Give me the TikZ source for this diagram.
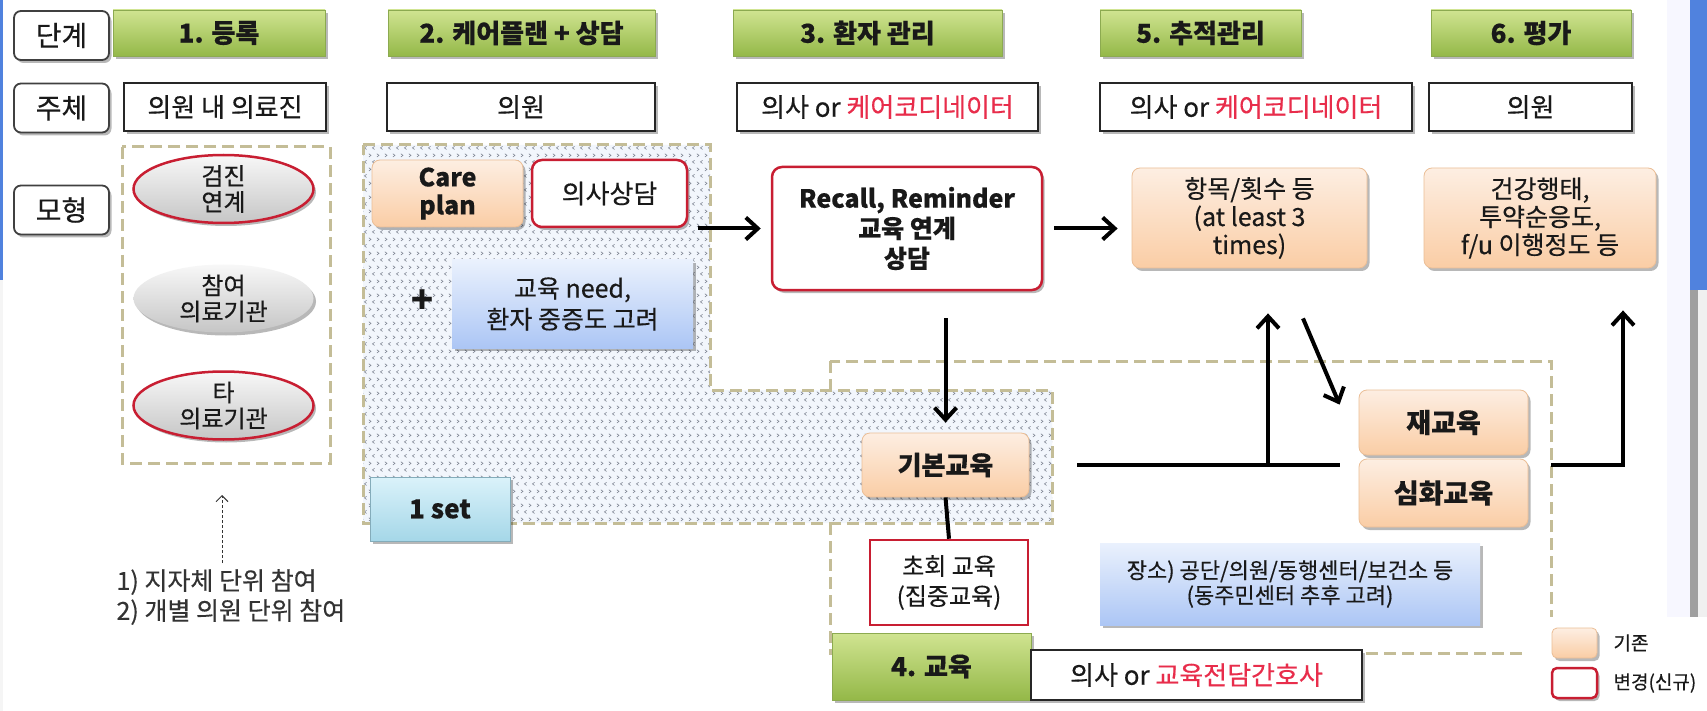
\documentclass[tikz,border=0pt]{standalone}
\usepackage{fontspec}
\setmainfont{Noto Sans CJK KR}[FakeBold=0.4]
\usetikzlibrary{shapes.geometric,shadows,arrows.meta,patterns.meta,calc}
\definecolor{txt}{RGB}{25,25,25}
\definecolor{gtop}{RGB}{208,228,145}
\definecolor{gbot}{RGB}{148,184,72}
\definecolor{gdraw}{RGB}{140,170,80}
\definecolor{ptop}{RGB}{253,238,226}
\definecolor{pbot}{RGB}{250,205,165}
\definecolor{pdraw}{RGB}{235,190,150}
\definecolor{redb}{RGB}{200,30,50}
\definecolor{redt}{RGB}{232,45,75}
\definecolor{btop}{RGB}{234,241,253}
\definecolor{bbot}{RGB}{172,198,245}
\definecolor{ctop}{RGB}{218,242,250}
\definecolor{cbot}{RGB}{165,215,232}
\definecolor{khaki}{RGB}{196,189,151}
\definecolor{hatchbg}{RGB}{242,246,252}
\definecolor{hatchfg}{RGB}{120,126,140}
\definecolor{scrblue}{RGB}{80,130,222}
\newcommand{\fz}[2]{\fontsize{#1}{#2}\selectfont}
\tikzdeclarepattern{
  name=chevs,
  bounding box={(0pt,0pt) and (8pt,14pt)},
  tile size={(8pt,14pt)},
  code={
    \draw[line width=0.6pt] (1.0pt,8.6pt) -- (3.4pt,10.3pt) -- (1.0pt,12.0pt);
    \draw[line width=0.6pt] (7.4pt,1.6pt) -- (5.0pt,3.3pt) -- (7.4pt,5.0pt);
  }
}
\tikzset{
  shd/.style={drop shadow={shadow xshift=2.5pt, shadow yshift=-3pt, opacity=0.28, fill=black}},
  lbl/.style={draw=black!75, line width=1.8pt, rounded corners=7pt, fill=white, minimum width=95pt, minimum height=49pt, font=\fz{28}{32}, text=txt, shd},
  hdr/.style={top color=gtop, bottom color=gbot, draw=gdraw, line width=0.6pt, minimum height=46pt, font=\bfseries\fz{26}{30}, text=txt, shd},
  who/.style={draw=black!85, line width=2.2pt, fill=white, minimum height=48pt, font=\fz{26}{30}, text=txt, shd},
  ell/.style={ellipse, minimum width=180pt, minimum height=68pt, inner sep=0pt, top color=gray!6, bottom color=gray!45, align=center, font=\fz{24}{26}, text=txt, shd},
  peach/.style={rounded corners=8pt, top color=ptop, bottom color=pbot, draw=pdraw, line width=0.8pt, align=center, text=txt, shd},
  redbox/.style={rounded corners=10pt, fill=white, draw=redb, line width=2.5pt, align=center, text=txt, shd},
  redsq/.style={fill=white, draw=redb, line width=2.5pt, align=center, text=txt},
  bluebox/.style={top color=btop, bottom color=bbot, align=center, text=txt, shd},
  cyanbox/.style={top color=ctop, bottom color=cbot, draw=cbot!80!black, line width=0.5pt, align=center, text=txt, shd},
  kdash/.style={draw=khaki, line width=3pt, dash pattern=on 12pt off 6pt},
  arr/.style={line width=4pt, -{Straight Barb[length=12pt,width=22pt,line width=4pt]}},
  lin/.style={line width=4pt}
}
\begin{document}
\begin{tikzpicture}[x=1pt,y=-1pt]
\useasboundingbox (0,0) rectangle (1707,711);
\fill[white] (0,0) rectangle (1707,711);
% screen artefacts
\fill[scrblue] (0,0) rectangle (3,280);
\fill[black!4] (0,280) rectangle (3,711);
\fill[blue!3] (1667,0) rectangle (1690,617);
\fill[scrblue] (1690,0) rectangle (1707,290);
\fill[gray!75] (1690,290) rectangle (1698,617);
\fill[gray!12] (1698,290) rectangle (1707,617);

% region 4 (education)
\draw[kdash] (830,361) rectangle (1551,653);
% region 1
\draw[kdash] (122,147) rectangle (330,463);
% hatched region (1 set)
\fill[hatchbg] (363,145) -- (710,145) -- (710,390) -- (1052,390) -- (1052,523) -- (363,523) -- cycle;
\fill[pattern=chevs, pattern color=hatchfg] (363,145) -- (710,145) -- (710,390) -- (1052,390) -- (1052,523) -- (363,523) -- cycle;
\draw[kdash] (363,145) -- (710,145) -- (710,390) -- (1052,390) -- (1052,523) -- (363,523) -- cycle;

% legend background
\fill[white] (1527,617) rectangle (1707,711);

% row labels
\node[lbl] (l1) at (61.5,35.5) {단계};
\node[lbl] (l2) at (61.5,108) {주체};
\node[lbl] (l3) at (61.5,210) {모형};

% headers
\node[hdr, minimum width=212pt] (h1) at (219,33) {1. 등록};
\node[hdr, minimum width=267pt] (h2) at (521.5,33) {2. 케어플랜 + 상담};
\node[hdr, minimum width=269pt] (h3) at (867.5,33) {3. 환자 관리};
\node[hdr, minimum width=201pt] (h5) at (1200.5,33) {5. 추적관리};
\node[hdr, minimum width=200pt] (h6) at (1531,33) {6. 평가};

% actors
\node[who, minimum width=202pt] (w1) at (225,107) {의원 내 의료진};
\node[who, minimum width=268pt] (w2) at (521,107) {의원};
\node[who, minimum width=301pt] (w3) at (887.5,107) {의사 or \textcolor{redt}{케어코디네이터}};
\node[who, minimum width=312pt] (w5) at (1256,107) {의사 or \textcolor{redt}{케어코디네이터}};
\node[who, minimum width=203pt] (w6) at (1530.5,107) {의원};

% models column 1
\node[ell, draw=redb, line width=2.5pt] (e1) at (223.5,189) {검진\\연계};
\node[ell] (e2) at (223.5,298.5) {참여\\의료기관};
\node[ell, draw=redb, line width=2.5pt] (e3) at (223.5,405.5) {타\\의료기관};
\node[anchor=west, align=left, font=\fz{25}{30}, text=black!80] (notes) at (113,597) {1) 지자체 단위 참여\\2) 개별 의원 단위 참여};
\coordinate (dtop) at (222,495);
\coordinate (dbot) at (222,563);
\draw[densely dashed, line width=1pt, black!80, -{Straight Barb[length=6pt,width=12pt,line width=1pt]}] (dbot) -- (dtop);

% column 2
\node[peach, minimum width=151pt, minimum height=67pt, font=\bfseries\fz{25}{28}] (cp) at (447.5,193.5) {Care\\plan};
\node[redbox, minimum width=155pt, minimum height=67pt, font=\fz{26}{30}] (ds) at (609.5,193.5) {의사상담};
\node[font=\bfseries\fz{36}{36}, text=txt] (plus) at (422,301) {+};
\node[bluebox, minimum width=241pt, minimum height=88pt, font=\fz{25}{31}] (need) at (572.5,304) {교육 need,\\환자 중증도 고려};
\node[cyanbox, minimum width=140pt, minimum height=64pt, font=\bfseries\fz{26}{30}] (set) at (440,509) {1 set};

% column 3
\node[redbox, minimum width=270pt, minimum height=123pt, font=\bfseries\fz{25}{30}] (rc) at (907,228.5) {Recall, Reminder\\교육 연계\\상담};

% column 5 / 6
\node[peach, minimum width=235pt, minimum height=100pt, font=\fz{25}{28}] (hm) at (1249.5,218) {항목/횟수 등\\(at least 3\\times)};
\node[peach, minimum width=232pt, minimum height=100pt, font=\fz{25}{28}] (gh) at (1540,218) {건강행태,\\투약순응도,\\f/u 이행정도 등};

% education
\node[peach, minimum width=167pt, minimum height=64pt, font=\bfseries\fz{26}{30}] (gb) at (945.5,465) {기본교육};
\node[redsq, minimum width=158pt, minimum height=85pt, font=\fz{24}{30}] (ch) at (949,582.5) {초회 교육\\(집중교육)};
\node[bluebox, minimum width=380pt, minimum height=82pt, font=\fz{22}{25}] (place) at (1290,584) {장소) 공단/의원/동행센터/보건소 등\\(동주민센터 추후 고려)};
\node[peach, minimum width=169pt, minimum height=65pt, font=\bfseries\fz{27}{30}] (jg) at (1443.5,422.5) {재교육};
\node[peach, minimum width=169pt, minimum height=68pt, font=\bfseries\fz{27}{30}] (sh) at (1443.5,493) {심화교육};
\node[hdr, minimum width=199pt, minimum height=67pt] (h4) at (931.5,666.5) {4. 교육};
\node[who, minimum width=331pt, minimum height=50pt, line width=2pt] (w4) at (1196.5,675) {의사 or \textcolor{redt}{교육전담간호사}};

% legend
\node[peach, rounded corners=5pt, minimum width=45pt, minimum height=30pt] (lg1) at (1574.5,643) {};
\node[anchor=west, font=\fz{19}{20}, text=txt] (lg1t) at (1610,643) {기존};
\node[redbox, rounded corners=5pt, minimum width=45pt, minimum height=30pt] (lg2) at (1574.5,683) {};
\node[anchor=west, font=\fz{19}{20}, text=txt] (lg2t) at (1610,683) {변경(신규)};

% connectors
\draw[arr] ($(ds.east |- rc.west)+(10,0)$) -- ($(rc.west)+(-10,0)$);
\draw[arr] ($(rc.east)+(11,0)$) -- ($(hm.west |- rc.east)+(-14,0)$);
\draw[arr] ($(gb.north |- rc.south)+(0,27)$) -- ($(gb.north)+(0,-10)$);
\draw[lin] (gb.south) -- (ch.north);
\coordinate (junc) at (1268,465);
\draw[lin] ($(gb.east)+(48,0)$) -- ($(jg.west |- gb.east)+(-19,0)$);
\draw[arr] (junc) -- ($(hm.south -| junc)+(0,45)$);
\draw[arr] ($(hm.south)+(53.5,50)$) -- ($(jg.north west)+(-19,15)$);
\coordinate (r4e) at (1551,465);
\draw[arr] (r4e) -| ($(gh.south)+(83,42)$);
\end{tikzpicture}
\end{document}
